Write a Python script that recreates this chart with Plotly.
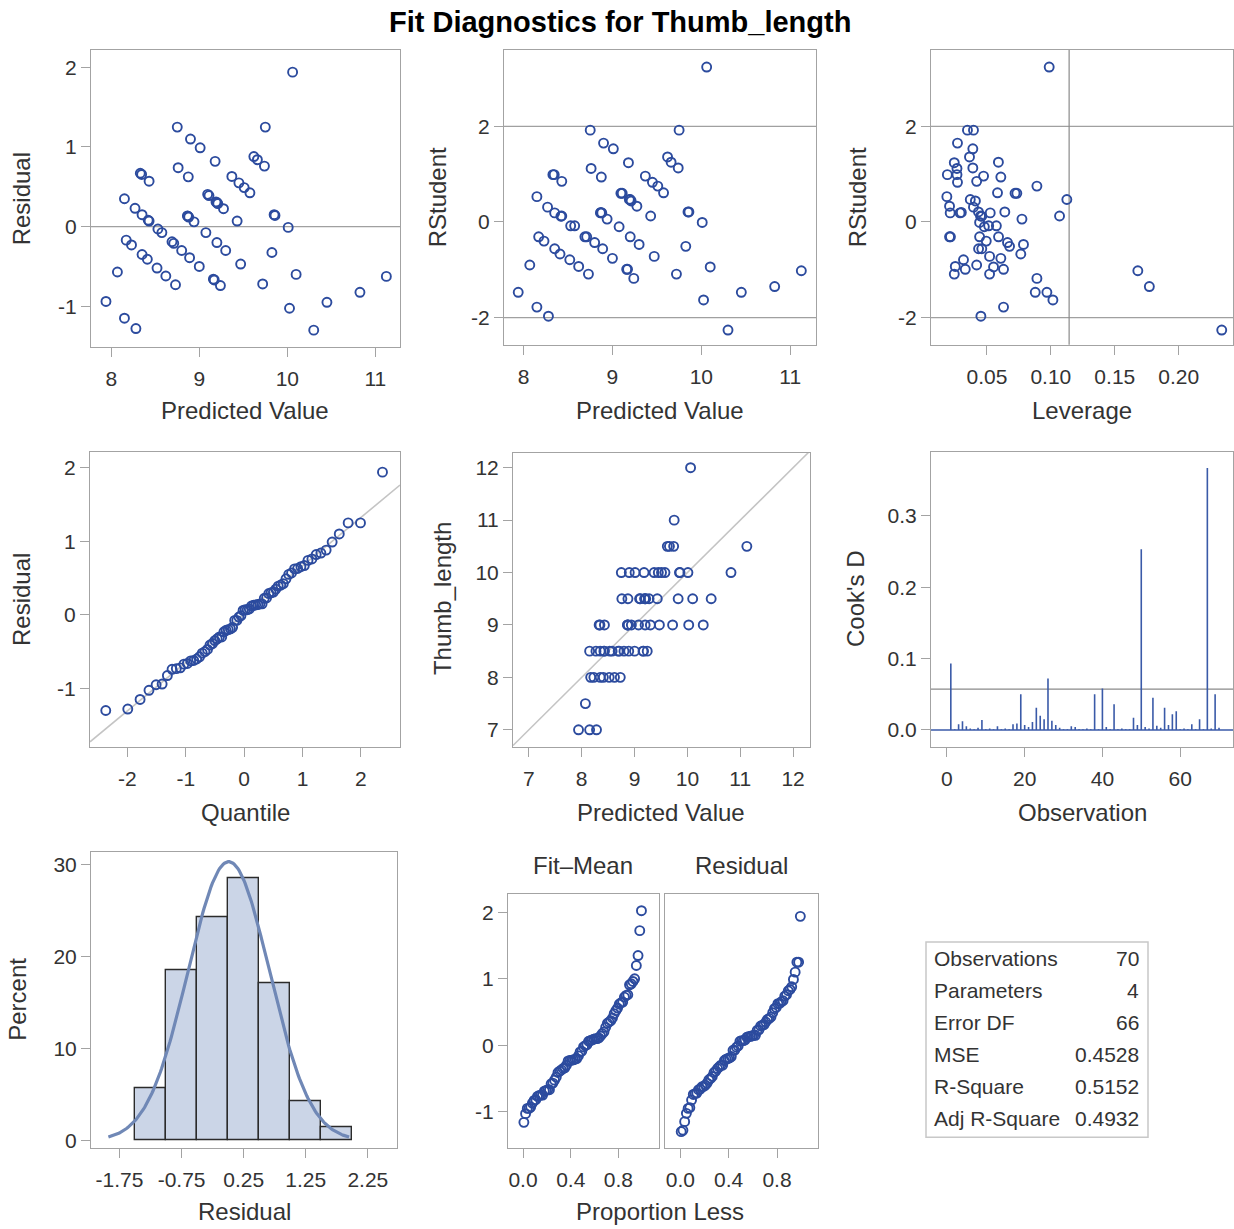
import numpy as np
import plotly.graph_objects as go
from statistics import NormalDist

W, H = 1234, 1229

chart_title = "Fit Diagnostics for Thumb_length"

# ---- per-observation values ----
predicted = [7.94, 8.07, 8.15, 8.15, 8.17, 8.23, 8.28, 8.27, 8.33, 8.345,
             8.35, 8.43, 8.35, 8.43, 8.41, 8.53, 8.52, 8.575, 8.62, 8.69,
             8.71, 8.73, 8.75, 8.76, 8.80, 8.875, 8.865, 8.89, 8.88, 8.94,
             8.90, 9.01, 9.0, 9.075, 9.095, 9.11, 9.16, 9.17, 9.18, 9.19,
             9.2, 9.20, 9.24, 9.275, 9.3, 9.37, 9.43, 9.45, 9.47, 9.51,
             9.575, 9.62, 9.66, 9.72, 9.74, 9.75, 9.825, 9.85, 9.86, 10.01,
             10.025, 10.06, 10.1, 10.3, 10.45, 10.825, 11.125, 8.42, 8.87, 9.21]

thumb_length = [7, 7.5, 8.5, 7, 8, 8, 7, 8.5, 9, 9,
                8.5, 9, 8, 8.5, 8, 8.5, 8, 8.5, 8, 8.5,
                8.5, 8, 10, 9.5, 8.5, 9.5, 9, 8.5, 9, 9,
                10, 10, 8.5, 9, 9.5, 9.5, 8.5, 8.5, 10, 9.5,
                9, 9.5, 8.5, 9.5, 9, 10, 9.5, 10, 9, 10,
                10, 10.5, 10.5, 9, 10.5, 11, 9.5, 10, 10, 10,
                9, 12, 9.5, 9, 9.5, 10, 10.5, 8.5, 9, 9.5]

rstudent = [-1.47, -0.90, 0.53, -1.78, -0.31, -0.40, -1.97, 0.31, 0.99, 0.99,
            0.19, 0.85, -0.56, 0.125, -0.67, -0.08, -0.79, -0.08, -0.93, -0.31,
            -0.31, -1.09, 1.92, 1.12, -0.43, 0.94, 0.19, -0.56, 0.19, 0.06,
            1.65, 1.53, -0.76, -0.10, 0.60, 0.60, -0.99, -0.99, 1.24, 0.47,
            -0.31, 0.47, -1.18, 0.33, -0.47, 0.96, 0.125, 0.83, -0.72, 0.75,
            0.61, 1.36, 1.25, -1.09, 1.13, 1.92, -0.51, 0.21, 0.21, -0.01,
            -1.63, 3.24, -0.94, -2.26, -1.47, -1.35, -1.02, 0.12, 0.20, 0.44]

leverage = [0.0878, 0.042, 0.0187, 0.063, 0.0208, 0.0495, 0.0453, 0.0395, 0.0191, 0.0266,
            0.0213, 0.042, 0.0435, 0.045, 0.0765, 0.0514, 0.0317, 0.0574, 0.0253, 0.0215,
            0.0591, 0.0245, 0.0348, 0.0266, 0.0661, 0.0609, 0.0526, 0.046, 0.029, 0.0774,
            0.027, 0.039, 0.0609, 0.048, 0.0734, 0.072, 0.0331, 0.063, 0.0245, 0.1125,
            0.0443, 0.037, 0.0891, 0.0208, 0.0786, 0.0474, 0.1068, 0.027, 0.0521, 0.0891,
            0.0583, 0.0364, 0.059, 0.0521, 0.039, 0.0395, 0.0677, 0.0434, 0.064, 0.0443,
            0.1016, 0.0987, 0.0552, 0.2336, 0.0969, 0.177, 0.168, 0.046, 0.030, 0.041]

# Cook's D by observation number 1..70
cooks_d = [0.093, 0.001, 0.008, 0.012, 0.005, 0.002, 0.001, 0.003, 0.014, 0.001,
           0.002, 0.001, 0.005, 0.001, 0.002, 0.001, 0.008, 0.009, 0.050, 0.007,
           0.004, 0.011, 0.031, 0.020, 0.015, 0.072, 0.013, 0.007, 0.003, 0.001,
           0.001, 0.005, 0.004, 0.001, 0.001, 0.002, 0.001, 0.050, 0.001, 0.058,
           0.004, 0.001, 0.036, 0.001, 0.002, 0.001, 0.001, 0.017, 0.007, 0.253,
           0.004, 0.002, 0.045, 0.006, 0.003, 0.031, 0.007, 0.022, 0.026, 0.001,
           0.002, 0.001, 0.008, 0.001, 0.015, 0.001, 0.367, 0.002, 0.050, 0.003]

stat_labels = ["Observations", "Parameters", "Error DF", "MSE", "R-Square", "Adj R-Square"]
stat_values = ["70", "4", "66", "0.4528", "0.5152", "0.4932"]
n_params = 4

# tick labels per panel (values, text)
ticks_p1_x = ([8, 9, 10, 11], ["8", "9", "10", "11"])
ticks_p1_y = ([-1, 0, 1, 2], ["-1", "0", "1", "2"])
ticks_rs_y = ([-2, 0, 2], ["-2", "0", "2"])
ticks_lev_x = ([0.05, 0.10, 0.15, 0.20], ["0.05", "0.10", "0.15", "0.20"])
ticks_q_x = ([-2, -1, 0, 1, 2], ["-2", "-1", "0", "1", "2"])
ticks_obs_x = ([7, 8, 9, 10, 11, 12], ["7", "8", "9", "10", "11", "12"])
ticks_cook_x = ([0, 20, 40, 60], ["0", "20", "40", "60"])
ticks_cook_y = ([0.0, 0.1, 0.2, 0.3], ["0.0", "0.1", "0.2", "0.3"])
ticks_hist_x = ([-1.75, -0.75, 0.25, 1.25, 2.25], ["-1.75", "-0.75", "0.25", "1.25", "2.25"])
ticks_hist_y = ([0, 10, 20, 30], ["0", "10", "20", "30"])
ticks_rf_x = ([0.0, 0.4, 0.8], ["0.0", "0.4", "0.8"])

# ---- derived quantities ----
pred = np.array(predicted, dtype=float)
obs = np.array(thumb_length, dtype=float)
resid = obs - pred
n = len(pred)
r_mean = float(resid.mean())
r_sd = float(resid.std(ddof=1))
nd = NormalDist()
quant = np.array([nd.inv_cdf((i - 0.375) / (n + 0.25)) for i in range(1, n + 1)])
resid_sorted = np.sort(resid)
fit_mean_sorted = np.sort(pred - obs.mean())
prop_less = (np.arange(1, n + 1) - 0.5) / n
obs_index = np.arange(1, len(cooks_d) + 1)

# ---- styling ----
FONT = "Liberation Sans, Arial, sans-serif"
FRAME = "#a3a3a3"
MARK = "#2c4b9e"
REF = "#a0a0a0"
TXT = "#333333"
TICK = 21
ATITLE = 24


def px_x(p):
    return p / W


def px_y(p):
    return 1 - p / H


marker = dict(symbol="circle-open", size=9, color=MARK, line=dict(width=1.9, color=MARK))

fig = go.Figure()

# panel frames in pixels: (left, right, top, bottom)
frames = {
    1: (91, 400, 50, 348),
    2: (504, 816, 50, 346),
    3: (931, 1233, 50, 346),
    4: (90, 400, 453, 749),
    5: (513, 810, 454, 749),
    6: (931, 1233, 453, 749),
    7: (91, 397, 855, 1152),
    8: (508, 659, 897, 1152),
    9: (665, 818, 897, 1152),
}

axis_specs = {
    1: dict(xr=[7.77, 11.28], yr=[-1.51, 2.22], xt=ticks_p1_x, yt=ticks_p1_y),
    2: dict(xr=[7.78, 11.29], yr=[-2.57, 3.60], xt=ticks_p1_x, yt=ticks_rs_y),
    3: dict(xr=[0.0063, 0.2424], yr=[-2.57, 3.60], xt=ticks_lev_x, yt=ticks_rs_y),
    4: dict(xr=[-2.64, 2.67], yr=[-1.79, 2.22], xt=ticks_q_x, yt=ticks_p1_y),
    5: dict(xr=[6.7, 12.32], yr=[6.68, 12.29], xt=ticks_obs_x, yt=ticks_obs_x),
    6: dict(xr=[-4.1, 73.6], yr=[-0.0233, 0.39], xt=ticks_cook_x, yt=ticks_cook_y),
    7: dict(xr=[-2.21, 2.72], yr=[-0.83, 31.38], xt=ticks_hist_x, yt=ticks_hist_y),
    8: dict(xr=[-0.126, 1.14], yr=[-1.55, 2.275], xt=ticks_rf_x, yt=ticks_p1_y),
    9: dict(xr=[-0.127, 1.139], yr=[-1.55, 2.275], xt=ticks_rf_x, yt=None),
}

layout_axes = {}
for k, (l, r, t, b) in frames.items():
    s = axis_specs[k]
    xname = "xaxis" if k == 1 else f"xaxis{k}"
    yname = "yaxis" if k == 1 else f"yaxis{k}"
    common = dict(showline=True, mirror=True, linecolor=FRAME, linewidth=1,
                  ticks="outside", ticklen=9, tickcolor=FRAME, tickwidth=1,
                  showgrid=False, zeroline=False, fixedrange=True,
                  tickfont=dict(family=FONT, size=TICK, color=TXT))
    xa = dict(common, domain=[px_x(l), px_x(r)], range=s["xr"],
              tickmode="array", tickvals=s["xt"][0], ticktext=s["xt"][1],
              ticklabelstandoff=4, anchor=f"y{'' if k == 1 else k}")
    ya = dict(common, domain=[px_y(b), px_y(t)], range=s["yr"],
              anchor=f"x{'' if k == 1 else k}")
    if s["yt"] is None:
        ya.update(ticks="", showticklabels=False)
    else:
        ya.update(tickmode="array", tickvals=s["yt"][0], ticktext=s["yt"][1])
    layout_axes[xname] = xa
    layout_axes[yname] = ya


def ax(k):
    return ("x" if k == 1 else f"x{k}"), ("y" if k == 1 else f"y{k}")


def hline(k, yv, color=REF, width=1.2):
    xa, ya = ax(k)
    xr = axis_specs[k]["xr"]
    fig.add_trace(go.Scatter(x=xr, y=[yv, yv], mode="lines", xaxis=xa, yaxis=ya,
                             line=dict(color=color, width=width), hoverinfo="skip"))


def vline(k, xv, color=REF, width=1.2):
    xa, ya = ax(k)
    yr = axis_specs[k]["yr"]
    fig.add_trace(go.Scatter(x=[xv, xv], y=yr, mode="lines", xaxis=xa, yaxis=ya,
                             line=dict(color=color, width=width), hoverinfo="skip"))


# Panel 1: Residual vs Predicted
hline(1, 0)
fig.add_trace(go.Scatter(x=pred, y=resid, mode="markers", marker=marker, xaxis="x", yaxis="y"))

# Panel 2: RStudent vs Predicted
hline(2, 2)
hline(2, -2)
fig.add_trace(go.Scatter(x=pred, y=rstudent, mode="markers", marker=marker, xaxis="x2", yaxis="y2"))

# Panel 3: RStudent vs Leverage
hline(3, 2)
hline(3, -2)
vline(3, 2 * n_params / n, color="#8a8a8a")
fig.add_trace(go.Scatter(x=leverage, y=rstudent, mode="markers", marker=marker, xaxis="x3", yaxis="y3"))

# Panel 4: QQ plot
qx = np.array(axis_specs[4]["xr"])
fig.add_trace(go.Scatter(x=qx, y=r_mean + r_sd * qx, mode="lines", xaxis="x4", yaxis="y4",
                         line=dict(color="#c4c4c4", width=1.6), hoverinfo="skip"))
fig.add_trace(go.Scatter(x=quant, y=resid_sorted, mode="markers", marker=marker, xaxis="x4", yaxis="y4"))

# Panel 5: observed vs predicted
dx = np.array(axis_specs[5]["xr"])
fig.add_trace(go.Scatter(x=dx, y=dx, mode="lines", xaxis="x5", yaxis="y5",
                         line=dict(color="#c4c4c4", width=1.6), hoverinfo="skip"))
fig.add_trace(go.Scatter(x=pred, y=obs, mode="markers", marker=marker, xaxis="x5", yaxis="y5"))

# Panel 6: Cook's D needles
hline(6, 4 / n, color="#8a8a8a")
nx, ny = [], []
for i, d in zip(obs_index, cooks_d):
    nx += [i, i, None]
    ny += [0, d, None]
fig.add_trace(go.Scatter(x=nx, y=ny, mode="lines", xaxis="x6", yaxis="y6",
                         line=dict(color="#3a5aa8", width=1.6), hoverinfo="skip"))
hline(6, 0, color="#3a5aa8", width=1.6)

# Panel 7: histogram + normal curve
fig.add_trace(go.Histogram(x=resid, xbins=dict(start=-1.5, end=2.0, size=0.5), histnorm="percent",
                           marker=dict(color="#cbd5e7", line=dict(color="#2b2b2b", width=1.4)),
                           xaxis="x7", yaxis="y7"))
cx = np.linspace(r_mean - 2.95 * r_sd, r_mean + 2.95 * r_sd, 200)
cy = [100 * 0.5 * NormalDist(r_mean, r_sd).pdf(v) for v in cx]
fig.add_trace(go.Scatter(x=cx, y=cy, mode="lines", xaxis="x7", yaxis="y7",
                         line=dict(color="#7088b6", width=3.2), hoverinfo="skip"))

# Panel 8: residual-fit spread plot
fig.add_trace(go.Scatter(x=prop_less, y=fit_mean_sorted, mode="markers", marker=marker, xaxis="x8", yaxis="y8"))
fig.add_trace(go.Scatter(x=prop_less, y=resid_sorted, mode="markers", marker=marker, xaxis="x9", yaxis="y9"))

annotations = []


def text(x, y, s, size=ATITLE, angle=0, xanchor="center", color=TXT, bold=False):
    annotations.append(dict(x=px_x(x), y=px_y(y), xref="paper", yref="paper", text=f"<b>{s}</b>" if bold else s,
                            showarrow=False, textangle=angle, xanchor=xanchor, yanchor="middle",
                            font=dict(family=FONT, size=size, color=color)))


text(620, 22, chart_title, size=29, color="#000000", bold=True)

# x-axis titles
text(245, 412, "Predicted Value")
text(660, 412, "Predicted Value")
text(1082, 412, "Leverage")
text(245, 815, "Quantile")
text(661, 815, "Predicted Value")
text(1082, 815, "Observation")
text(244, 1215, "Residual")
text(660, 1215, "Proportion Less")
text(583, 868, "Fit\u2013Mean")
text(741, 868, "Residual")

# y-axis titles
text(21, 199, "Residual", angle=-90)
text(437, 198, "RStudent", angle=-90)
text(857, 198, "RStudent", angle=-90)
text(21, 601, "Residual", angle=-90)
text(442, 601, "Thumb_length", angle=-90)
text(855, 601, "Cook's D", angle=-90)
text(18, 1003, "Percent", angle=-90)

# statistics table
shapes = [dict(type="rect", xref="paper", yref="paper", x0=px_x(926), x1=px_x(1148),
               y0=px_y(1141), y1=px_y(945), line=dict(color="#c8c8c8", width=1.5), fillcolor="white")]
row_y = 962
for lab, val in zip(stat_labels, stat_values):
    text(932, row_y, lab, size=21, xanchor="left")
    text(1141, row_y, val, size=21, xanchor="right")
    row_y += 32

fig.update_layout(
    width=W, height=H, margin=dict(l=0, r=0, t=0, b=0),
    paper_bgcolor="white", plot_bgcolor="white", showlegend=False,
    bargap=0, annotations=annotations, shapes=shapes,
    **layout_axes,
)

fig.write_html("out.html", config={"displayModeBar": False},
               post_script="document.body.style.margin='0px';document.body.style.overflow='hidden';")
